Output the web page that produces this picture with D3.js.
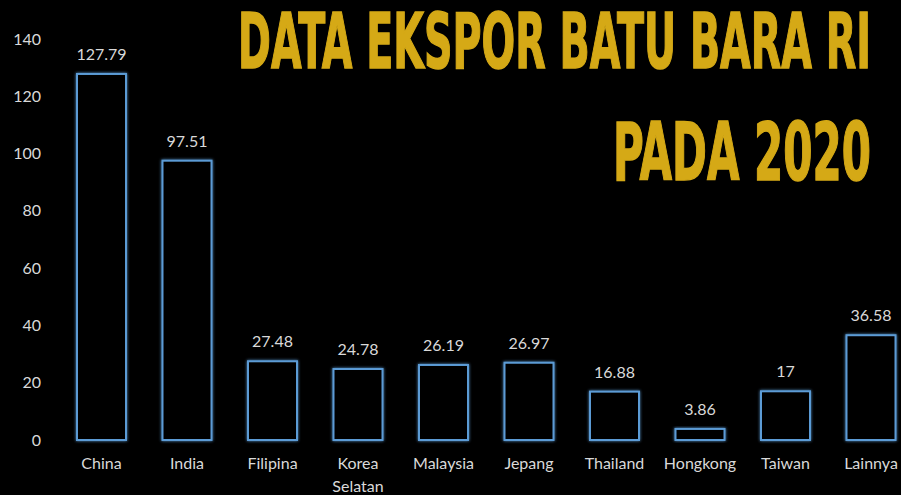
<!DOCTYPE html>
<html>
<head>
<meta charset="utf-8">
<script src="https://cdn.jsdelivr.net/npm/d3@7"></script>
<style>
  body { margin: 0; background: #000; }
  svg { display: block; }
</style>
</head>
<body>
<script>
var width = 901,
    height = 495;

var categories = ["China", "India", "Filipina", "Korea Selatan", "Malaysia", "Jepang", "Thailand", "Hongkong", "Taiwan", "Lainnya"];
var values = [127.79, 97.51, 27.48, 24.78, 26.19, 26.97, 16.88, 3.86, 17, 36.58];
var yTicks = [0, 20, 40, 60, 80, 100, 120, 140];
var titleLines = ["DATA EKSPOR BATU BARA RI", "PADA 2020"];

var labelFont = "Lato, 'Open Sans', sans-serif";

var xScale = d3.scaleBand()
    .domain(categories)
    .range([58.75, 913.75])
    .paddingInner(0.427)
    .paddingOuter(0.2135);

var yScale = d3.scaleLinear()
    .domain([0, 140])
    .range([440, 39]);

var svg = d3.select("body")
    .append("svg")
    .attr("width", width)
    .attr("height", height);

svg.append("rect")
    .attr("width", width)
    .attr("height", height)
    .attr("fill", "#000");

// soft glow round the bars
var defs = svg.append("defs");
var glow = defs.append("filter").attr("id", "glow")
    .attr("x", "-20%").attr("y", "-20%").attr("width", "140%").attr("height", "140%");
glow.append("feGaussianBlur").attr("in", "SourceGraphic").attr("stdDeviation", 1.5).attr("result", "blur");
var merge = glow.append("feMerge");
merge.append("feMergeNode").attr("in", "blur");
merge.append("feMergeNode").attr("in", "SourceGraphic");

// y axis (labels only)
var yAxis = d3.axisLeft(yScale).tickValues(yTicks).tickSize(0).tickPadding(0);
var gy = svg.append("g")
    .attr("transform", "translate(41,0)")
    .call(yAxis);
gy.select(".domain").remove();
gy.selectAll("text")
    .attr("fill", "#d9d9d9")
    .attr("font-family", labelFont)
    .attr("font-size", "16px");

// x axis
var xAxis = d3.axisBottom(xScale).tickSize(0).tickPadding(0);
var gx = svg.append("g")
    .attr("transform", "translate(0,458)")
    .call(xAxis);
gx.select(".domain").remove();
gx.selectAll("text")
    .attr("fill", "#d9d9d9")
    .attr("font-family", labelFont)
    .attr("font-size", "16px")
    .each(function(d) {
        var t = d3.select(this);
        var words = d.split(" ");
        if (words.length > 1) {
            t.text(null);
            words.forEach(function(w, i) {
                t.append("tspan").attr("x", 0).attr("dy", i === 0 ? "0.71em" : "1.4em").text(w);
            });
        }
    });

// bars
svg.selectAll("rect.bar")
    .data(values)
    .enter()
    .append("rect")
    .attr("class", "bar")
    .attr("x", function(d, i) { return xScale(categories[i]); })
    .attr("y", function(d) { return yScale(d); })
    .attr("width", xScale.bandwidth())
    .attr("height", function(d) { return yScale(0) - yScale(d); })
    .attr("fill", "#000")
    .attr("stroke", "#5b9bd5")
    .attr("stroke-width", 2)
    .attr("filter", "url(#glow)");

// value labels
svg.selectAll("text.val")
    .data(values)
    .enter()
    .append("text")
    .attr("class", "val")
    .attr("x", function(d, i) { return xScale(categories[i]) + xScale.bandwidth() / 2; })
    .attr("y", function(d) { return yScale(d) - 14; })
    .attr("text-anchor", "middle")
    .attr("fill", "#d9d9d9")
    .attr("font-family", labelFont)
    .attr("font-size", "16px")
    .text(function(d) { return d; });

// title: condensed by a horizontal scale so it fits its box
var titleFont = "'Liberation Sans Narrow', 'DejaVu Sans Condensed', sans-serif";
function addTitle(txt, x, y, w, size) {
    var t = svg.append("text")
        .attr("x", 0)
        .attr("y", 0)
        .attr("fill", "#d5a916")
        .attr("stroke", "#d5a916")
        .attr("stroke-width", 1.5)
        .attr("font-family", titleFont)
        .attr("font-weight", "bold")
        .attr("font-size", size + "px")
        .text(txt);
    var natural = t.node().getComputedTextLength();
    t.attr("transform", "translate(" + x + "," + y + ") scale(" + (w / natural) + ",1)");
}
addTitle(titleLines[0], 238, 68, 633, 77);
addTitle(titleLines[1], 613, 180, 258, 80);
</script>
</body>
</html>
